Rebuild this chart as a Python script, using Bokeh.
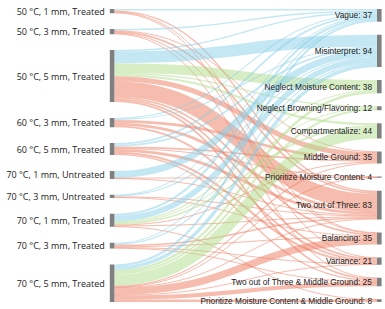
from bokeh.plotting import figure
from bokeh.models import Range1d, ColumnDataSource
from bokeh.embed import file_html
from bokeh.resources import INLINE
from bokeh.core.properties import value

# ---------------- data ----------------
sources = ["50 °C, 1 mm, Treated", "50 °C, 3 mm, Treated", "50 °C, 5 mm, Treated",
           "60 °C, 3 mm, Treated", "60 °C, 5 mm, Treated", "70 °C, 1 mm, Untreated",
           "70 °C, 3 mm, Untreated", "70 °C, 1 mm, Treated", "70 °C, 3 mm, Treated",
           "70 °C, 5 mm, Treated"]
targets = ["Vague", "Misinterpret", "Neglect Moisture Content", "Neglect Browning/Flavoring",
           "Compartmentalize", "Middle Ground", "Prioritize Moisture Content", "Two out of Three",
           "Balancing", "Variance", "Two out of Three & Middle Ground",
           "Prioritize Moisture Content & Middle Ground"]
target_group = ["blue", "blue", "green", "green", "green", "red", "red", "red", "red", "red", "red", "red"]
# flows[source][target]
flows = [
    [4, 0, 0, 0, 0, 0, 0, 4, 2, 2, 0, 0],
    [4, 0, 0, 0, 0, 2, 0, 5, 2, 0, 2, 0],
    [4, 34, 28, 4, 6, 15, 0, 45, 5, 5, 5, 0],
    [3, 3, 0, 0, 0, 8, 0, 8, 0, 5, 0, 0],
    [5, 5, 0, 0, 0, 5, 2, 8, 0, 6, 4, 0],
    [0, 20, 0, 0, 0, 0, 1, 2, 0, 0, 0, 0],
    [2, 3, 0, 0, 0, 0, 0, 2, 2, 0, 0, 0],
    [6, 16, 3, 2, 5, 2, 0, 3, 0, 0, 0, 1],
    [3, 3, 0, 0, 0, 0, 0, 4, 3, 2, 2, 0],
    [6, 10, 7, 6, 33, 3, 1, 2, 21, 1, 12, 7],
]
group_colors = {"blue": "#87cfe8", "green": "#b0dc8a", "red": "#ee7a5e"}

# ---------------- sankey layout (justified columns, fixed node order) ----------------
W, H = 385, 309
Y0, Y1 = 8.5, 301.5
PY = 13.0
NW = 4.6
XL, XR = 109.3, 376.5

nodes = []
for i, n in enumerate(sources):
    nodes.append({"name": n, "sl": [], "tl": [], "x0": XL})
for j, n in enumerate(targets):
    nodes.append({"name": n, "sl": [], "tl": [], "x0": XR})
links = []
for i, row in enumerate(flows):
    for j, v in enumerate(row):
        if v > 0:
            L = {"s": nodes[i], "t": nodes[len(sources) + j], "v": v,
                 "color": group_colors[target_group[j]], "index": len(links)}
            links.append(L)
            nodes[i]["sl"].append(L)
            nodes[len(sources) + j]["tl"].append(L)
for n in nodes:
    n["value"] = max(sum(l["v"] for l in n["sl"]), sum(l["v"] for l in n["tl"]))

columns = [nodes[:len(sources)], nodes[len(sources):]]
ky = min((Y1 - Y0 - (len(c) - 1) * PY) / sum(n["value"] for n in c) for c in columns)
for l in links:
    l["w"] = l["v"] * ky

for col in columns:
    total = sum(n["value"] for n in col) * ky
    gap = (Y1 - Y0 - total) / (len(col) - 1)
    y = Y0
    for n in col:
        n["y0"] = y
        n["y1"] = y + n["value"] * ky
        y = n["y1"] + gap

for n in nodes:
    n["sl"].sort(key=lambda l: (l["t"]["y0"], l["index"]))
    n["tl"].sort(key=lambda l: (l["s"]["y0"], l["index"]))
    a = b = n["y0"]
    for l in n["sl"]:
        l["ly0"] = a + l["w"] / 2
        a += l["w"]
    for l in n["tl"]:
        l["ly1"] = b + l["w"] / 2
        b += l["w"]

# ---------------- drawing ----------------
p = figure(width=W, height=H, output_backend="svg", toolbar_location=None,
           x_range=Range1d(0, W), y_range=Range1d(H, 0), min_border=0,
           x_axis_location=None, y_axis_location=None)
p.grid.visible = False
p.outline_line_color = None
p.background_fill_color = "white"

lk = dict(x0=[], y0=[], x1=[], y1=[], cx0=[], cy0=[], cx1=[], cy1=[], w=[], color=[])
for l in links:
    sx = l["s"]["x0"] + NW
    tx = l["t"]["x0"]
    mx = (sx + tx) / 2
    lk["x0"].append(sx); lk["y0"].append(l["ly0"])
    lk["x1"].append(tx); lk["y1"].append(l["ly1"])
    lk["cx0"].append(mx); lk["cy0"].append(l["ly0"])
    lk["cx1"].append(mx); lk["cy1"].append(l["ly1"])
    lk["w"].append(max(1.0, l["w"]))
    lk["color"].append(l["color"])
p.bezier(x0="x0", y0="y0", x1="x1", y1="y1", cx0="cx0", cy0="cy0", cx1="cx1", cy1="cy1",
         line_width="w", line_color="color", line_alpha=0.5, line_cap="butt",
         source=ColumnDataSource(lk))

nd = dict(left=[n["x0"] for n in nodes], right=[n["x0"] + NW for n in nodes],
          top=[n["y0"] for n in nodes], bottom=[max(n["y1"], n["y0"] + 1) for n in nodes])
p.quad(left="left", right="right", top="top", bottom="bottom", fill_color="#808080",
       line_color=None, source=ColumnDataSource(nd))

lt = dict(x=[n["x0"] - 5 for n in columns[0]], y=[(n["y0"] + n["y1"]) / 2 for n in columns[0]],
          text=[n["name"] for n in columns[0]])
p.text(x="x", y="y", text="text", source=ColumnDataSource(lt), text_align="right",
       text_baseline="middle", text_font=value("Open Sans"), text_font_size="9px",
       text_color="#222222")
rt = dict(x=[n["x0"] - 5 for n in columns[1]], y=[(n["y0"] + n["y1"]) / 2 for n in columns[1]],
          text=[f"{n['name']}: {n['value']}" for n in columns[1]])
p.text(x="x", y="y", text="text", source=ColumnDataSource(rt), text_align="right",
       text_baseline="middle", text_font=value("Liberation Sans"), text_font_size="8.3px",
       text_color="#222222")

open("out.html", "w").write(file_html(p, INLINE))
